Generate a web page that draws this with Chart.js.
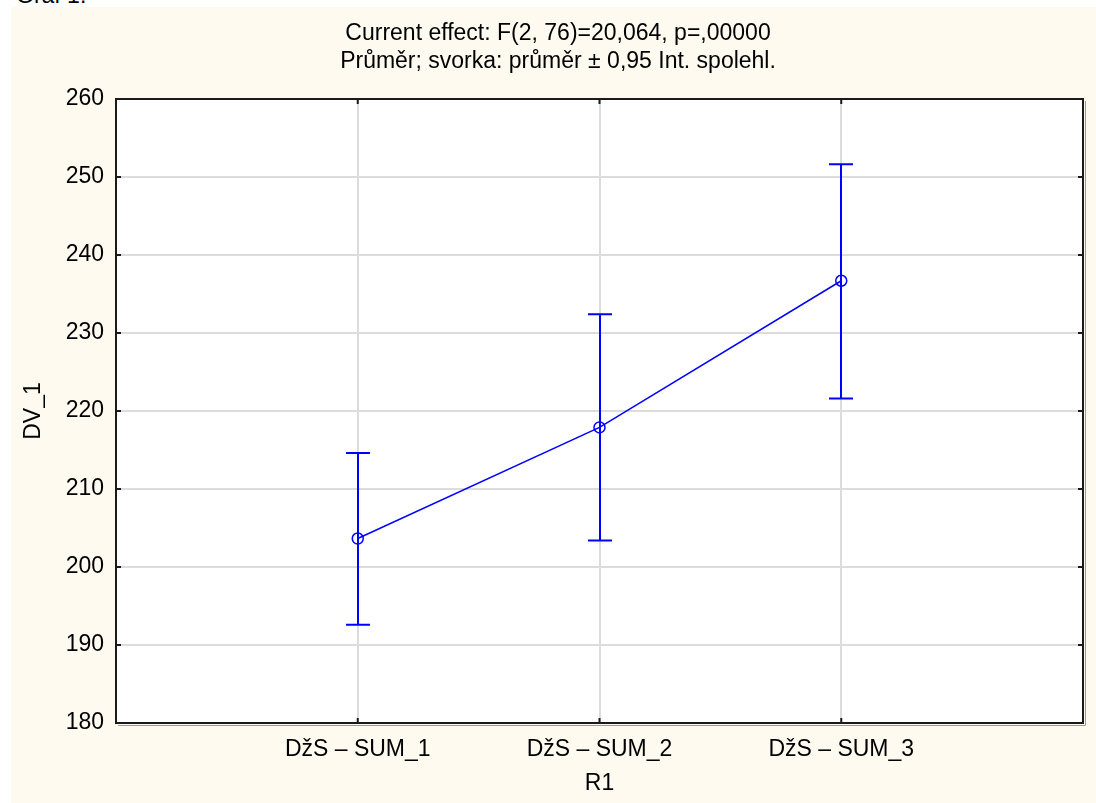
<!DOCTYPE html>
<html>
<head>
<meta charset="utf-8">
<script src="https://cdn.jsdelivr.net/npm/chart.js@4"></script>
<style>
    body { margin: 0; background: #ffffff; width: 1096px; height: 803px; overflow: hidden; position: relative; font-family: "Liberation Sans", Arial, sans-serif; }
    #graf { position: absolute; left: 16px; top: -18px; font-size: 23px; color: #000; }
    #panel { position: absolute; left: 11px; top: 7px; width: 1085px; height: 796px; background: #fffaf0; }
</style>
</head>
<body>
<div id="graf">Graf 1:</div>
<div id="panel"><canvas id="chart" width="1085" height="796"></canvas></div>
<script>
// data
const categories = ['DžS – SUM_1', 'DžS – SUM_2', 'DžS – SUM_3'];
const means = [203.65, 217.9, 236.7];
const ciLow = [192.6, 203.4, 221.6];
const ciHigh = [214.6, 232.4, 251.65];
const yTicks = [180, 190, 200, 210, 220, 230, 240, 250, 260];
const titleLines = ['Current effect: F(2, 76)=20,064, p=,00000', 'Průměr; svorka: průměr ± 0,95 Int. spolehl.'];

const FONT = '"Liberation Sans", Arial, sans-serif';
const FS = 23;
const BLUE = '#0000ff';

// white plot background
const plotBg = {
    id: 'plotBg',
    beforeDraw(chart) {
        const a = chart.chartArea;
        chart.ctx.save();
        chart.ctx.fillStyle = '#ffffff';
        chart.ctx.fillRect(a.left, a.top, a.right - a.left, a.bottom - a.top);
        chart.ctx.restore();
    }
};

// error bars, frame, inner ticks and the two title lines
const extras = {
    id: 'extras',
    afterDatasetsDraw(chart) {
        const ctx = chart.ctx;
        const xs = chart.scales.x, ys = chart.scales.y;
        ctx.save();
        ctx.strokeStyle = BLUE;
        ctx.lineWidth = 2;
        for (let i = 0; i < categories.length; i++) {
            const px = Math.round(xs.getPixelForValue(i + 1));
            const top = ys.getPixelForValue(ciHigh[i]);
            const bot = ys.getPixelForValue(ciLow[i]);
            ctx.beginPath();
            ctx.moveTo(px, top); ctx.lineTo(px, bot);
            ctx.moveTo(px - 12, top); ctx.lineTo(px + 12, top);
            ctx.moveTo(px - 12, bot); ctx.lineTo(px + 12, bot);
            ctx.stroke();
        }
        const a = chart.chartArea;
        // soft shadow right/bottom
        ctx.strokeStyle = '#9a9a9a';
        ctx.lineWidth = 1;
        ctx.beginPath();
        ctx.moveTo(a.right + 2.5, a.top + 2); ctx.lineTo(a.right + 2.5, a.bottom + 2.5); ctx.lineTo(a.left + 2, a.bottom + 2.5);
        ctx.stroke();
        // frame
        ctx.strokeStyle = '#1a1a1a';
        ctx.lineWidth = 2;
        ctx.strokeRect(a.left, a.top, a.right - a.left, a.bottom - a.top);
        // inner ticks
        ctx.beginPath();
        yTicks.forEach(v => {
            const py = ys.getPixelForValue(v);
            ctx.moveTo(a.left, py); ctx.lineTo(a.left + 5, py);
            ctx.moveTo(a.right, py); ctx.lineTo(a.right - 5, py);
        });
        categories.forEach((c, i) => {
            const px = xs.getPixelForValue(i + 1);
            ctx.moveTo(px, a.bottom); ctx.lineTo(px, a.bottom - 5);
            ctx.moveTo(px, a.top); ctx.lineTo(px, a.top + 5);
        });
        ctx.stroke();
        // title lines
        ctx.fillStyle = '#000';
        ctx.font = FS + 'px ' + FONT;
        ctx.textAlign = 'center';
        ctx.textBaseline = 'middle';
        ctx.fillText(titleLines[0], 547, 27);
        ctx.fillText(titleLines[1], 547, 55);
        ctx.restore();
    }
};

new Chart(document.getElementById('chart'), {
    type: 'line',
    data: {
        datasets: [{
            data: means.map((m, i) => ({ x: i + 1, y: m })),
            borderColor: BLUE,
            borderWidth: 1.5,
            pointRadius: 5.5,
            pointBorderWidth: 1.5,
            pointBorderColor: BLUE,
            pointBackgroundColor: 'rgba(0,0,0,0)',
            tension: 0
        }]
    },
    options: {
        responsive: false,
        animation: false,
        layout: { padding: { top: 92, right: 10, left: 0, bottom: 0 } },
        plugins: { legend: { display: false }, tooltip: { enabled: false } },
        scales: {
            x: {
                type: 'linear',
                min: 0,
                max: 4,
                afterFit: s => { s.height = 80; },
                afterBuildTicks: s => { s.ticks = [0, 1, 2, 3, 4].map(v => ({ value: v })); },
                border: { display: false },
                grid: {
                    drawTicks: false,
                    lineWidth: 2,
                    color: c => (c.tick && c.tick.value > 0 && c.tick.value < 4) ? '#dcdcdc' : 'rgba(0,0,0,0)'
                },
                ticks: {
                    padding: 13,
                    color: '#000',
                    font: { family: FONT, size: FS },
                    callback: v => categories[v - 1] || ''
                },
                title: { display: true, text: 'R1', color: '#000', font: { family: FONT, size: FS }, padding: { top: 0, bottom: 6 } }
            },
            y: {
                min: 180,
                max: 260,
                afterFit: s => { s.width = 105; },
                afterBuildTicks: s => { s.ticks = yTicks.map(v => ({ value: v })); },
                border: { display: false },
                grid: { drawTicks: false, lineWidth: 2, color: '#dcdcdc' },
                ticks: { padding: 12, color: '#000', font: { family: FONT, size: FS } },
                title: { display: true, text: 'DV_1', color: '#000', font: { family: FONT, size: FS }, padding: { top: 9, bottom: 0 } }
            }
        }
    },
    plugins: [plotBg, extras]
});
</script>
</body>
</html>
